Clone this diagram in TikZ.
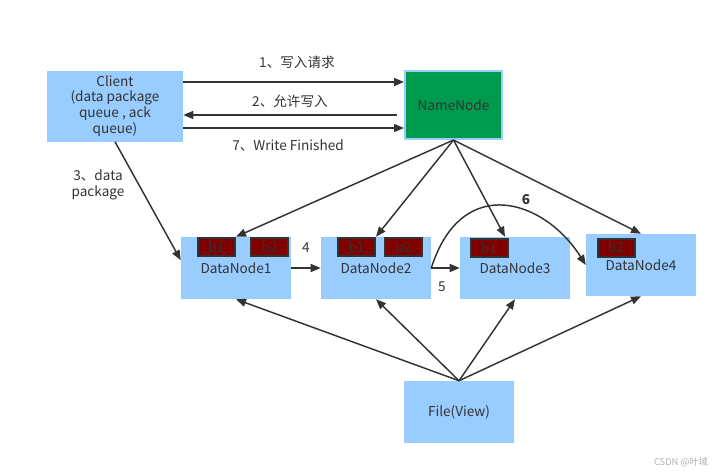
\documentclass[tikz,border=0pt]{standalone}
\usepackage{fontspec}
\setmainfont{Noto Sans CJK SC}
\usetikzlibrary{arrows.meta}
\definecolor{boxblue}{HTML}{99CCFF}
\definecolor{nngreen}{HTML}{009A4E}
\definecolor{blkred}{HTML}{800000}
\definecolor{linegray}{HTML}{333333}
\tikzset{
  every node/.style={font=\fontsize{10.2}{11.8}\selectfont, text=linegray},
  box/.style={fill=boxblue, draw=none, minimum width=82.5pt, minimum height=46.5pt, inner sep=0pt, align=center},
  nnbox/.style={fill=nngreen, draw=boxblue, line width=1.5pt, minimum width=72.75pt, minimum height=51pt, inner sep=0pt},
  blk/.style={fill=blkred, draw=linegray, line width=1.5pt, minimum width=27.75pt, minimum height=13.5pt, inner sep=0pt},
  flow/.style={draw=linegray, line width=1.1pt, -{Triangle[length=7.5pt,width=6pt]}},
}

\begin{document}
\begin{tikzpicture}[x=0.75pt,y=0.75pt,yscale=-1,xscale=1]
\useasboundingbox (0,0) rectangle (727,475);

% Boxes
\node[box, minimum width=102pt, minimum height=53.25pt] (client) at (115,106) {Client\\(data package\\queue , ack\\queue)};
\node[nnbox] (nn) at (453.5,105) {NameNode};
\node[box] (dn1) at (236,268) {DataNode1};
\node[box] (dn2) at (376,268) {DataNode2};
\node[box] (dn3) at (515,268) {DataNode3};
\node[box] (dn4) at (641,265) {DataNode4};
\node[box] (fv) at (459,412) {File(View)};

% Blocks
\node[blk] (b11) at (216.5,247) {b1};
\node[blk] (b12) at (269.5,247) {b2};
\node[blk] (b21) at (356.5,247) {b1};
\node[blk] (b22) at (403.5,247) {b2};
\node[blk] (b31) at (489,248) {b1};
\node[blk] (b42) at (616,247.5) {b2};

%Straight Lines
\coordinate (nnin) at (397,115);
\draw[flow] (client.east |- 0,82) -- (nn.west |- 0,82);
\draw[flow] (nnin) -- (client.east |- nnin);
\draw[flow] (client.east |- 0,128) -- (nn.west |- 0,128);
\draw[flow] (client.south) -- (dn1.172);
%from NameNode
\draw[flow] (nn.south) -- (dn1.north);
\draw[flow] (nn.south) -- (dn2.north);
\draw[flow] (nn.south) -- ([xshift=-7.5pt]dn3.north);
\draw[flow] (nn.south) -- (dn4.north);
%pipeline
\draw[flow] (dn1.east) -- (dn2.west);
\draw[flow] (dn2.east) -- (dn3.west);
\draw[flow] (dn2.east) .. controls (462,172) and (545,200) .. (dn4.west);
%from File
\draw[flow] (fv.north) -- (dn1.south);
\draw[flow] (fv.north) -- (dn2.south);
\draw[flow] (fv.north) -- (dn3.south);
\draw[flow] (fv.north) -- (dn4.south);

% Text Node
\node (l1) at (297,62) {1、写入请求};
\node (l2) at (290,101) {2、允许写入};
\node (l7) at (288,145) {7、Write Finished};
\node[align=center] (l3) at (98,184.5) {3、data\\package};
\node (l4) at (306,248) {4};
\node (l5) at (442,287) {5};
\node[font=\fontsize{10.2}{11.8}\selectfont\bfseries] (l6) at (526,200) {6};
\node[text=gray!60, font=\fontsize{7}{8}\selectfont] (wm) at (681,462) {CSDN @叶域};

\end{tikzpicture}
\end{document}
